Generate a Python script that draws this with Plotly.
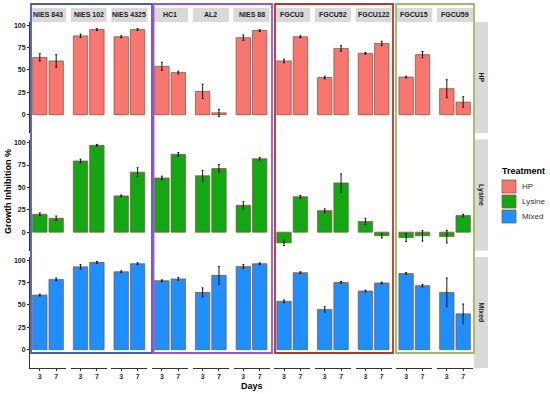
import plotly.graph_objects as go
from plotly.subplots import make_subplots

# ---------------- data ----------------
strains = ["NIES 843", "NIES 102", "NIES 4325", "HC1", "AL2", "NIES 88",
           "FGCU3", "FGCU52", "FGCU122", "FGCU15", "FGCU59"]
days = ["3", "7"]
treatments = ["HP", "Lysine", "Mixed"]

hp_day3 = [64, 88, 87, 54, 26, 86, 60, 41.5, 68.5, 42, 29]
hp_day7 = [60, 95, 95, 47, 2, 94, 87, 74, 79.5, 67, 14]
hp_err3 = [4, 2, 1, 4.5, 8, 3, 2, 1.5, 1, 1, 10]
hp_err7 = [7, 1, 1, 1.5, 4, 1, 1, 3, 2.5, 3.5, 6]

lys_day3 = [20, 79.5, 40.5, 60.5, 63, 30, -12, 24, 12, -6, -5]
lys_day7 = [15.5, 97, 67, 87, 71, 82, 39.5, 55, -4, -4, 18.5]
lys_err3 = [1.5, 2, 1, 2, 6, 4, 3, 2, 3.5, 4.5, 7]
lys_err7 = [2.5, 1, 5, 2, 4.5, 1.5, 1.5, 10, 2.5, 6, 1.5]

mix_day3 = [61, 92.5, 87, 77, 64, 93, 54, 45, 65.5, 85, 64]
mix_day7 = [78.5, 97.5, 96, 79, 83, 96, 86, 75, 74.5, 71.5, 40]
mix_err3 = [1, 2.5, 1, 1, 5, 2, 1.5, 3, 1, 1, 16]
mix_err7 = [1.5, 1, 1, 1.5, 10, 1, 1, 1, 1, 1.5, 11]

y_ticks = [0, 25, 50, 75, 100]

colors = {"HP": "#F8766D", "Lysine": "#12A812", "Mixed": "#1E8FFF"}
series = {
    "HP": (hp_day3, hp_day7, hp_err3, hp_err7),
    "Lysine": (lys_day3, lys_day7, lys_err3, lys_err7),
    "Mixed": (mix_day3, mix_day7, mix_err3, mix_err7),
}

# ---------------- geometry helpers ----------------
W, H = 550, 394
L, R, T, B = 30, 473, 22, 368
PW, PH = R - L, B - T


def px(x):
    return (x - L) / PW


def py(y):
    return (B - y) / PH


ncol = len(strains)
fig = make_subplots(rows=3, cols=ncol, shared_yaxes=False,
                    horizontal_spacing=4.7 / PW, vertical_spacing=6.5 / PH)

FONT = "Liberation Sans, Arial, sans-serif"
outline = "rgba(130,85,70,0.75)"

for r, tr in enumerate(treatments):
    d3, d7, e3, e7 = series[tr]
    for c in range(ncol):
        fig.add_trace(go.Bar(
            x=[0, 1], y=[d3[c], d7[c]], width=0.88,
            marker=dict(color=colors[tr], line=dict(color=outline, width=1)),
            error_y=dict(type="data", array=[e3[c], e7[c]], color="black",
                         thickness=0.9, width=1),
            showlegend=False, hoverinfo="skip"),
            row=r + 1, col=c + 1)

for r in range(3):
    for c in range(ncol):
        fig.update_xaxes(row=r + 1, col=c + 1, range=[-0.6, 1.6],
                         tickvals=[0, 1], ticktext=["<b>%s</b>" % d for d in days],
                         showticklabels=(r == 2), showgrid=False, zeroline=False,
                         showline=(r == 2), linecolor="#333333", linewidth=1,
                         ticks="outside" if r == 2 else "", ticklen=2,
                         tickcolor="#333333",
                         tickfont=dict(family=FONT, size=7, color="#333333"))
        fig.update_yaxes(row=r + 1, col=c + 1, range=[-20.5, 103.5],
                         tickvals=y_ticks,
                         ticktext=["<b>%d</b>" % v for v in y_ticks],
                         showticklabels=(c == 0),
                         showgrid=False, zeroline=False,
                         showline=(c == 0), linecolor="#333333", linewidth=1,
                         ticks="outside" if c == 0 else "", ticklen=2,
                         tickcolor="#333333",
                         tickfont=dict(family=FONT, size=7, color="#222222"))

shapes = []
annotations = []

# top strips
lay = fig.layout
for c, s in enumerate(strains):
    dom = lay["xaxis" + ("" if c == 0 else str(c + 1))].domain
    shapes.append(dict(type="rect", xref="paper", yref="paper",
                       x0=dom[0], x1=dom[1], y0=py(22), y1=py(8),
                       fillcolor="#D9D9D9", line=dict(width=0), layer="below"))
    annotations.append(dict(xref="paper", yref="paper", x=(dom[0] + dom[1]) / 2,
                            y=py(15), text="<b>" + s + "</b>", showarrow=False,
                            font=dict(family=FONT, size=7, color="#1A1A1A"),
                            xanchor="center", yanchor="middle"))

# right strips
for r, tr in enumerate(treatments):
    idx = r * ncol + 1
    dom = lay["yaxis" + ("" if idx == 1 else str(idx))].domain
    shapes.append(dict(type="rect", xref="paper", yref="paper",
                       x0=px(474), x1=px(488), y0=dom[0], y1=dom[1],
                       fillcolor="#D9D9D9", line=dict(width=0), layer="below"))
    annotations.append(dict(xref="paper", yref="paper", x=px(481),
                            y=(dom[0] + dom[1]) / 2, text="<b>" + tr + "</b>",
                            showarrow=False, textangle=90,
                            font=dict(family=FONT, size=7, color="#1A1A1A"),
                            xanchor="center", yanchor="middle"))

# group rectangles
groups = [(31, 152, "#4A5CB4"), (153.5, 272, "#A24FD2"),
          (275, 393, "#B8342C"), (396, 474, "#9DBB5E")]
for x0, x1, col in groups:
    shapes.append(dict(type="rect", xref="paper", yref="paper",
                       x0=px(x0), x1=px(x1), y0=py(353), y1=py(4),
                       line=dict(color=col, width=1.8), fillcolor="rgba(0,0,0,0)",
                       layer="above"))

# axis titles
annotations.append(dict(xref="paper", yref="paper", x=px(8), y=py(192),
                        text="<b>Growth Inhibition %</b>", showarrow=False,
                        textangle=-90, font=dict(family=FONT, size=9, color="black"),
                        xanchor="center", yanchor="middle"))
annotations.append(dict(xref="paper", yref="paper", x=px(252), y=py(386),
                        text="<b>Days</b>", showarrow=False,
                        font=dict(family=FONT, size=9, color="black"),
                        xanchor="center", yanchor="middle"))

# legend (manual)
annotations.append(dict(xref="paper", yref="paper", x=px(500), y=py(171),
                        text="<b>Treatment</b>", showarrow=False,
                        font=dict(family=FONT, size=9, color="black"),
                        xanchor="left", yanchor="middle"))
for i, tr in enumerate(treatments):
    y0 = 180 + i * 15
    shapes.append(dict(type="rect", xref="paper", yref="paper",
                       x0=px(502), x1=px(516), y0=py(y0 + 13), y1=py(y0),
                       fillcolor=colors[tr], line=dict(color=outline, width=1)))
    annotations.append(dict(xref="paper", yref="paper", x=px(520),
                            y=py(y0 + 6.5), text=tr, showarrow=False,
                            font=dict(family=FONT, size=8, color="#333333"),
                            xanchor="left", yanchor="middle"))

fig.update_layout(width=W, height=H,
                  margin=dict(l=L, r=W - R, t=T, b=H - B),
                  paper_bgcolor="white", plot_bgcolor="white",
                  showlegend=False, bargap=0.1,
                  shapes=shapes, annotations=annotations,
                  font=dict(family=FONT))

fig.write_html("out.html",
               config={"displayModeBar": False},
               post_script="document.body.style.margin='0';"
                           "document.body.style.overflow='hidden';")
